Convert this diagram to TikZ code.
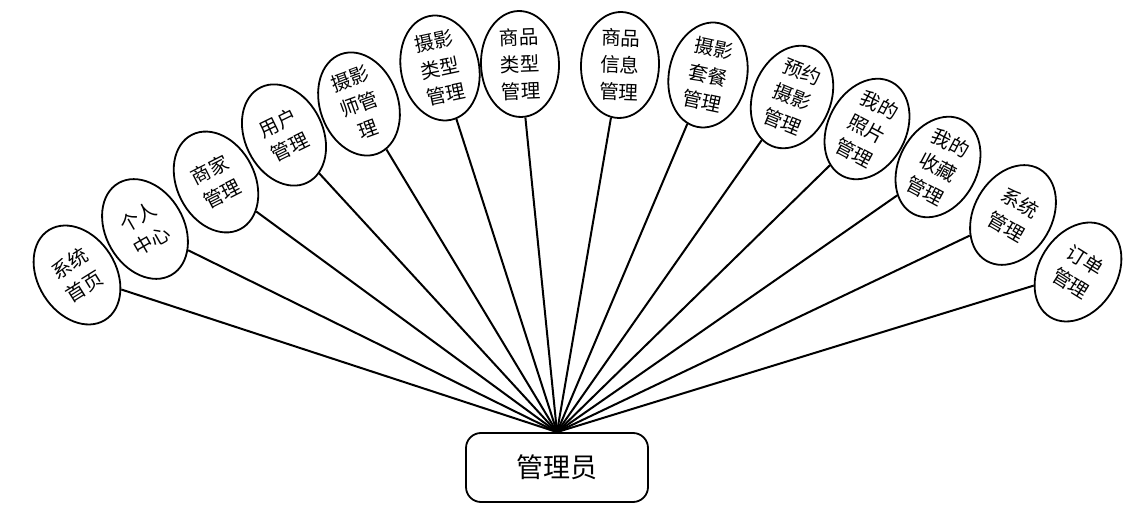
\documentclass[tikz,border=0pt]{standalone}
\usepackage{fontspec}
\newfontfamily\cjk{Noto Sans CJK SC}
\usetikzlibrary{shapes.geometric}
\begin{document}
\begin{tikzpicture}[x=1pt,y=1pt,
  func/.style={ellipse,draw=black,line width=1.8pt,minimum width=78pt,minimum height=106pt,inner sep=0pt,align=center,font=\cjk\fontsize{19.5}{27}\selectfont},
  admin/.style={draw=black,line width=1.8pt,rounded corners=15pt,minimum width=182pt,minimum height=69pt,font=\cjk\fontsize{27}{30}\selectfont},
  link/.style={line width=2pt}]
\useasboundingbox (0,0) rectangle (1127,511);
\node[admin] (adm) at (557,43.5) {管理员};
\coordinate (hub) at (adm.north);
\node[func,rotate=32] (n1) at (77,236) {系统\\首页};
\node[func,rotate=30] (n2) at (145,282) {个人\\中心};
\node[func,rotate=27] (n3) at (216,329) {商家\\管理};
\node[func,rotate=26] (n4) at (284,376) {用户\\管理};
\node[func,rotate=20] (n5) at (359,407) {摄影\\师管\\理};
\node[func,rotate=12] (n6) at (440,443) {摄影\\类型\\管理};
\node[func,rotate=2] (n7) at (520,447) {商品\\类型\\管理};
\node[func,rotate=-2] (n8) at (620,446) {商品\\信息\\管理};
\node[func,rotate=-12] (n9) at (708,436) {摄影\\套餐\\管理};
\node[func,rotate=-22] (n10) at (792,414) {预约\\摄影\\管理};
\node[func,rotate=-28] (n11) at (867,382) {我的\\照片\\管理};
\node[func,rotate=-28] (n12) at (938,344) {我的\\收藏\\管理};
\node[func,rotate=-30] (n13) at (1013,296) {系统\\管理};
\node[func,rotate=-32] (n14) at (1078,239) {订单\\管理};
\foreach \i in {1,...,14} {\draw[link] (n\i) -- (hub);}
\end{tikzpicture}
\end{document}
